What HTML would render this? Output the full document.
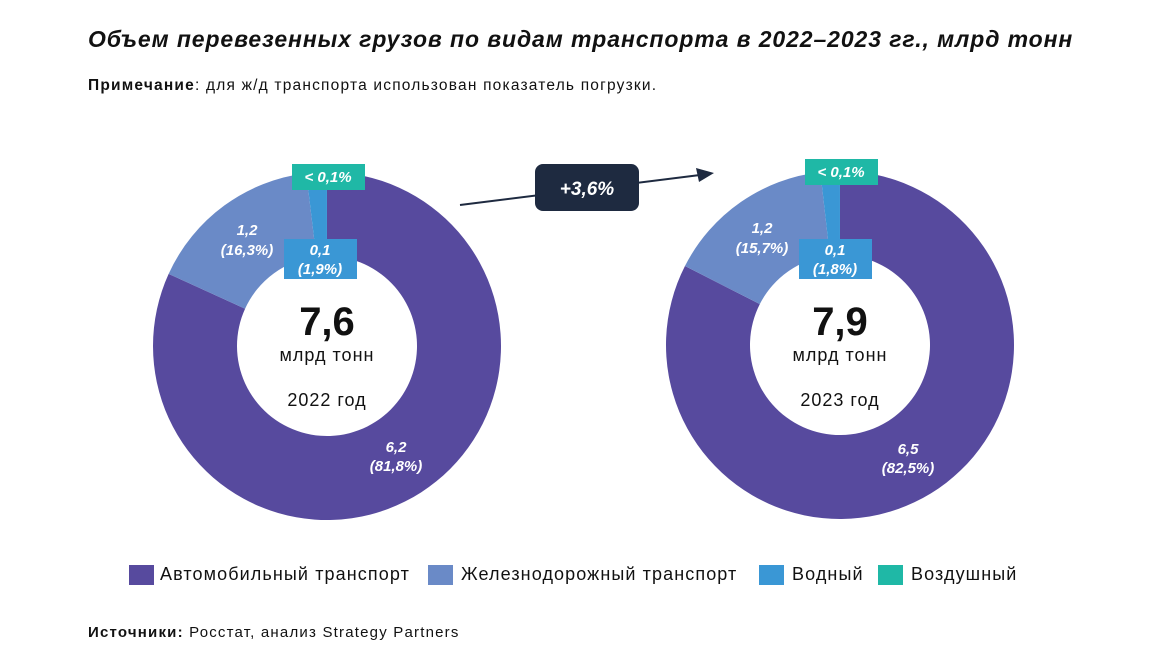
<!DOCTYPE html>
<html><head><meta charset="utf-8"><style>
body{margin:0;width:1170px;height:656px;background:#fff;font-family:"Liberation Sans",sans-serif;color:#111;position:relative;overflow:hidden}
.a{position:absolute;white-space:nowrap}
.lg{font-size:18px;letter-spacing:1.1px;top:564px}
</style></head><body>
<div class="a" style="left:88px;top:26px;font-size:23px;letter-spacing:0.9px;font-weight:bold;font-style:italic;">Объем перевезенных грузов по видам транспорта в 2022–2023 гг., млрд тонн</div>
<div class="a" style="left:88px;top:77px;font-size:15.5px;letter-spacing:1.2px;"><b>Примечание</b>: для ж/д транспорта использован показатель погрузки.</div>
<svg class="a" style="left:0;top:0" width="1170" height="656" id="s">
<g id="g"></g>
<line x1="460" y1="205" x2="700" y2="175" stroke="#1e2a40" stroke-width="2"/>
<polygon points="714,173 696,168 699,182" fill="#1e2a40"/>
<rect x="535" y="164" width="104" height="47" rx="8" fill="#1e2a40"/>
<text x="587" y="195" text-anchor="middle" fill="#fff" font-size="19" font-weight="bold" font-style="italic">+3,6%</text>
<g font-family="Liberation Sans" fill="#fff" font-weight="bold" font-style="italic" font-size="15" text-anchor="middle">
<rect x="292" y="164" width="73" height="26" fill="#1fb8a6"/><text x="328" y="182">&lt; 0,1%</text>
<rect x="284" y="239" width="73" height="40" fill="#3a97d5"/><text x="320" y="255">0,1</text><text x="320" y="274">(1,9%)</text>
<text x="247" y="235">1,2</text><text x="247" y="255">(16,3%)</text>
<text x="396" y="452">6,2</text><text x="396" y="471">(81,8%)</text>
<rect x="805" y="159" width="73" height="26" fill="#1fb8a6"/><text x="841" y="177">&lt; 0,1%</text>
<rect x="799" y="239" width="73" height="40" fill="#3a97d5"/><text x="835" y="255">0,1</text><text x="835" y="274">(1,8%)</text>
<text x="762" y="233">1,2</text><text x="762" y="253">(15,7%)</text>
<text x="908" y="454">6,5</text><text x="908" y="473">(82,5%)</text>
</g>
<g text-anchor="middle" fill="#111">
<text x="327" y="335" font-size="40" font-weight="bold">7,6</text>
<text x="327" y="361" font-size="18" letter-spacing="1">млрд тонн</text>
<text x="327" y="406" font-size="18" letter-spacing="1">2022 год</text>
<text x="840" y="335" font-size="40" font-weight="bold">7,9</text>
<text x="840" y="361" font-size="18" letter-spacing="1">млрд тонн</text>
<text x="840" y="406" font-size="18" letter-spacing="1">2023 год</text>
</g>
</svg>
<div class="a" style="left:129px;top:565px;width:25px;height:20px;background:#574a9e"></div>
<div class="a lg" style="left:160px;">Автомобильный транспорт</div>
<div class="a" style="left:428px;top:565px;width:25px;height:20px;background:#6a8ac7"></div>
<div class="a lg" style="left:461px;">Железнодорожный транспорт</div>
<div class="a" style="left:759px;top:565px;width:25px;height:20px;background:#3a97d5"></div>
<div class="a lg" style="left:792px;">Водный</div>
<div class="a" style="left:878px;top:565px;width:25px;height:20px;background:#1fb8a6"></div>
<div class="a lg" style="left:911px;">Воздушный</div>
<div class="a" style="left:88px;top:624px;font-size:15px;letter-spacing:1.2px;"><b>Источники:</b> Росстат, анализ Strategy Partners</div>
<script>
function arc(cx,cy,R,r,a0,a1,c){
 const p=(a,rr)=>[cx+rr*Math.sin(a*Math.PI/180),cy-rr*Math.cos(a*Math.PI/180)];
 const l=(a1-a0)>180?1:0;
 const [x0,y0]=p(a0,R),[x1,y1]=p(a1,R),[x2,y2]=p(a1,r),[x3,y3]=p(a0,r);
 return `<path d="M${x0},${y0}A${R},${R} 0 ${l} 1 ${x1},${y1}L${x2},${y2}A${r},${r} 0 ${l} 0 ${x3},${y3}Z" fill="${c}"/>`;
}
let h='';
[[327,346,[81.8,16.3,1.9]],[840,345,[82.5,15.7,1.8]]].forEach(([cx,cy,v])=>{
 const cols=['#574a9e','#6a8ac7','#3a97d5'];let a=0;
 v.forEach((p,i)=>{const b=a+p*3.6;h+=arc(cx,cy,174,90,a,Math.min(b,359.99),cols[i]);a=b;});
});
document.getElementById('g').innerHTML=h;
</script>
</body></html>
